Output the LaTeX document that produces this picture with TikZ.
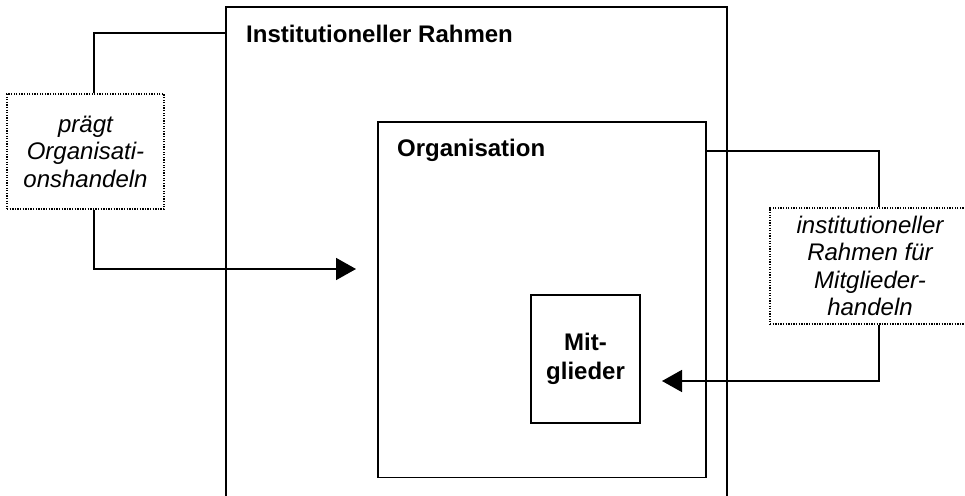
\documentclass[tikz,border=0pt]{standalone}
\usepackage{fontspec}
\setmainfont{Liberation Sans}
\usetikzlibrary{arrows.meta}
\begin{document}
\begin{tikzpicture}[x=1pt,y=-1pt,
  frame/.style={draw=black,line width=1.6pt,rectangle,inner sep=0pt},
  notebox/.style={draw=black,line width=1.2pt,dash pattern=on 1.3pt off 1.3pt,rectangle,inner sep=0pt,align=center,font=\fontsize{24}{27.5}\selectfont\itshape},
  title/.style={anchor=base west,inner sep=0pt,font=\fontsize{24}{27.5}\selectfont\bfseries},
  conn/.style={draw=black,line width=1.6pt},
  tip/.style={-{Triangle[length=20pt,width=22pt]}}]
\clip (0,0) rectangle (965,495);
\fill[white] (0,0) rectangle (965,495);
% boxes
\node[frame,minimum width=501pt,minimum height=493pt] (inst) at (476.5,253.5) {};
\node[frame,minimum width=328pt,minimum height=355.5pt] (org) at (542,299.75) {};
\node[frame,minimum width=109pt,minimum height=128pt,align=center,font=\fontsize{24}{29}\selectfont\bfseries] (mit) at (585.5,359) {Mit-\\glieder};
\node[title] (instlabel) at (246,42) {Institutioneller Rahmen};
\node[title] (orglabel) at (397,156) {Organisation};
% note boxes
\node[notebox,minimum width=157pt,minimum height=115pt] (lbox) at (85.5,151.5) {prägt\\Organisati-\\onshandeln};
\node[notebox,minimum width=200pt,minimum height=116pt] (rbox) at (870,266) {institutioneller\\Rahmen für\\Mitglieder-\\handeln};
% coordinates
\coordinate (ltop) at (0,33);
\coordinate (ltip) at (356,269);
\coordinate (rtop) at (0,151);
\coordinate (rtip) at (662,381);
% connectors
\draw[conn] ([xshift=8.5pt]lbox.north) |- (inst.west |- ltop);
\draw[conn,tip] ([xshift=8.5pt]lbox.south) |- (ltip);
\draw[conn] (org.east |- rtop) -| ([xshift=9pt]rbox.north);
\draw[conn,tip] ([xshift=9pt]rbox.south) |- (rtip);
\end{tikzpicture}
\end{document}
